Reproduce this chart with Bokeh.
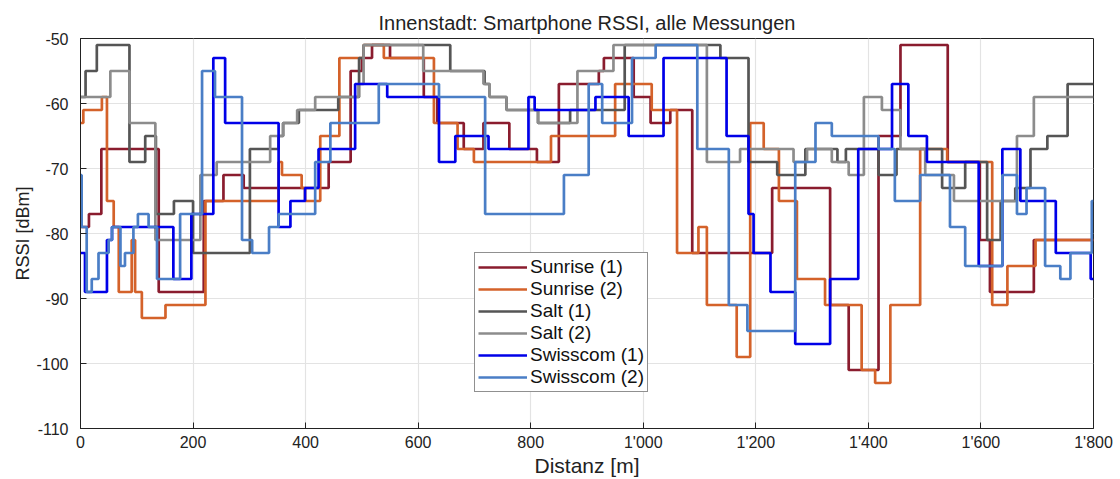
from bokeh.plotting import figure
from bokeh.models import FixedTicker, Range1d, Legend
from bokeh.embed import file_html
from bokeh.resources import INLINE

title = "Innenstadt: Smartphone RSSI, alle Messungen"
x_ticks = [0, 200, 400, 600, 800, 1000, 1200, 1400, 1600, 1800]
x_tick_labels = ["0", "200", "400", "600", "800", "1'000", "1'200", "1'400", "1'600", "1'800"]
y_ticks = [-110, -100, -90, -80, -70, -60, -50]
y_tick_labels = ["-110", "-100", "-90", "-80", "-70", "-60", "-50"]
x_end = 1800

# step series: distance where a level starts [m], RSSI level [dBm]
sunrise1_x = [0, 15, 37, 139, 219, 254, 290, 441, 480, 500, 518, 550, 610, 634, 681, 716, 762, 811, 850, 921, 930, 983, 1013, 1048, 1087, 1229, 1332, 1365, 1418, 1457, 1541, 1598, 1616, 1694]
sunrise1_y = [-79, -77, -67, -89, -75, -71, -73, -69, -55, -53, -51, -53, -59, -63, -67, -63, -67, -69, -57, -55, -53, -59, -63, -61, -83, -73, -91, -101, -65, -51, -69, -81, -89, -81]

sunrise2_x = [0, 5, 38, 47, 59, 68, 91, 97, 109, 151, 222, 352, 358, 393, 399, 426, 460, 503, 539, 628, 670, 699, 836, 950, 1015, 1060, 1098, 1113, 1166, 1190, 1214, 1241, 1273, 1323, 1388, 1412, 1439, 1492, 1540, 1620, 1647, 1697]
sunrise2_y = [-63, -61, -59, -75, -79, -89, -81, -89, -93, -91, -75, -69, -71, -73, -75, -65, -53, -51, -53, -63, -67, -69, -65, -57, -61, -83, -79, -91, -99, -63, -67, -75, -87, -91, -101, -103, -91, -67, -69, -91, -85, -81]

salt1_x = [0, 9, 29, 87, 115, 134, 166, 200, 301, 352, 360, 388, 458, 495, 503, 657, 718, 727, 757, 813, 870, 967, 1137, 1187, 1238, 1288, 1345, 1360, 1418, 1450, 1531, 1572, 1611, 1635, 1661, 1688, 1718, 1754]
salt1_y = [-59, -55, -51, -69, -65, -77, -75, -83, -67, -65, -63, -61, -59, -53, -51, -55, -57, -59, -61, -63, -61, -51, -53, -69, -71, -67, -69, -67, -71, -67, -73, -69, -81, -75, -73, -67, -65, -57]

salt2_x = [0, 53, 87, 133, 213, 242, 337, 360, 385, 417, 494, 503, 609, 716, 727, 757, 813, 883, 947, 1113, 1172, 1267, 1291, 1335, 1365, 1392, 1424, 1457, 1501, 1552, 1664, 1694]
salt2_y = [-59, -55, -63, -81, -71, -69, -65, -63, -61, -59, -57, -51, -55, -57, -59, -61, -63, -55, -51, -69, -67, -69, -67, -69, -71, -59, -61, -67, -71, -75, -65, -59]

swisscom1_x = [0, 8, 47, 56, 165, 197, 236, 257, 352, 373, 399, 423, 488, 545, 637, 666, 725, 796, 807, 915, 974, 1036, 1148, 1187, 1196, 1226, 1270, 1332, 1382, 1442, 1471, 1504, 1596, 1638, 1670, 1733, 1795]
swisscom1_y = [-83, -89, -81, -79, -87, -77, -53, -63, -79, -75, -73, -67, -57, -59, -69, -65, -67, -59, -61, -59, -65, -53, -65, -77, -83, -89, -97, -87, -67, -57, -65, -69, -85, -67, -75, -83, -87]

swisscom2_x = [0, 2, 11, 20, 32, 50, 56, 71, 79, 94, 102, 121, 136, 177, 216, 239, 287, 305, 335, 352, 417, 444, 530, 637, 719, 859, 903, 927, 980, 1022, 1096, 1152, 1185, 1270, 1306, 1335, 1418, 1447, 1492, 1545, 1572, 1638, 1664, 1681, 1714, 1741, 1759, 1797]
swisscom2_y = [-71, -79, -89, -87, -83, -81, -79, -85, -83, -79, -77, -79, -87, -77, -55, -59, -81, -83, -79, -77, -69, -63, -57, -59, -77, -71, -57, -63, -53, -51, -67, -91, -95, -69, -63, -65, -67, -75, -71, -79, -85, -71, -77, -73, -85, -87, -83, -75]

series = [
    ("Sunrise (1)", sunrise1_x, sunrise1_y, "#8A1C2E"),
    ("Sunrise (2)", sunrise2_x, sunrise2_y, "#D4622A"),
    ("Salt (1)", salt1_x, salt1_y, "#555555"),
    ("Salt (2)", salt2_x, salt2_y, "#8C8C8C"),
    ("Swisscom (1)", swisscom1_x, swisscom1_y, "#0000E8"),
    ("Swisscom (2)", swisscom2_x, swisscom2_y, "#4A7EC6"),
]

FONT = "Liberation Sans"

p = figure(width=1120, height=479, output_backend="svg", toolbar_location=None,
           x_range=Range1d(0, 1800), y_range=Range1d(-110, -50),
           min_border_left=80, min_border_right=27, min_border_top=38, min_border_bottom=51,
           title=title)
p.title.align = "center"
p.title.text_font = FONT
p.title.text_font_size = "20px"
p.title.text_font_style = "normal"
p.title.text_color = "#222222"
p.title.offset = 0

p.outline_line_color = "#222222"
p.outline_line_width = 1
p.background_fill_color = "white"
p.border_fill_color = "white"

for ax in (p.xaxis[0], p.yaxis[0]):
    ax.major_tick_in = 6
    ax.major_tick_out = 0
    ax.minor_tick_in = 0
    ax.minor_tick_out = 0
    ax.axis_line_color = "#222222"
    ax.major_tick_line_color = "#222222"
    ax.major_label_text_font = FONT
    ax.major_label_text_font_size = "16px"
    ax.major_label_text_color = "#222222"
    ax.axis_label_text_font = FONT
    ax.axis_label_text_font_style = "normal"
    ax.axis_label_text_color = "#222222"

p.xaxis.axis_label_text_font_size = "21px"
p.yaxis.axis_label_text_font_size = "18px"
p.xaxis.ticker = FixedTicker(ticks=x_ticks)
p.xaxis.major_label_overrides = {t: l for t, l in zip(x_ticks, x_tick_labels)}
p.yaxis.ticker = FixedTicker(ticks=y_ticks)
p.yaxis.major_label_overrides = {t: l for t, l in zip(y_ticks, y_tick_labels)}
p.yaxis.major_label_standoff = 12
p.xaxis.axis_label = "Distanz [m]"
p.yaxis.axis_label = "RSSI [dBm]"
p.xaxis.axis_label_standoff = 0
p.yaxis.axis_label_standoff = 0

p.xgrid.grid_line_color = "#E3E3E3"
p.ygrid.grid_line_color = "#E3E3E3"
p.xgrid.grid_line_width = 1.2
p.ygrid.grid_line_width = 1.2

items = []
for name, xs, ys, col in series:
    xx = list(xs) + [x_end]
    yy = list(ys) + [ys[-1]]
    r = p.step(xx, yy, mode="after", line_color=col, line_width=2.7)
    items.append((name, [r]))

legend = Legend(items=items, location=(394, 36))
legend.label_text_font = FONT
legend.label_text_font_size = "19px"
legend.label_text_color = "#111111"
legend.glyph_width = 49
legend.glyph_height = 20
legend.label_height = 20
legend.spacing = 0
legend.padding = 3
legend.margin = 0
legend.label_standoff = 3
legend.border_line_color = "#222222"
legend.border_line_width = 1
legend.background_fill_alpha = 1
p.add_layout(legend, "center")

open("out.html", "w").write(file_html(p, INLINE))
